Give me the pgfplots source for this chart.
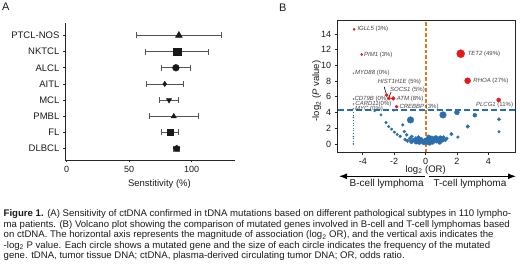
\documentclass[border=0pt]{standalone}
\usepackage{pgfplots}
\pgfplotsset{compat=1.18}
\usepackage{fontspec}
\setmainfont{Liberation Sans}
\usetikzlibrary{arrows.meta}
\definecolor{vblue}{HTML}{2A6EAE}
\definecolor{vred}{HTML}{E3191C}
\definecolor{vorange}{HTML}{E27A17}
\definecolor{errgray}{HTML}{555555}
\definecolor{lblgray}{HTML}{444444}
\definecolor{txt}{HTML}{1A1A1A}

\pgfplotstableread{
x y r
-3.25 4.2 1.0
-2.84 3.7 1.2
-2.52 2.73 1.3
-2.35 2.22 1.3
-2.16 1.89 1.3
-1.99 1.51 1.3
-1.81 1.21 1.3
-1.62 0.98 1.4
-2.03 4.3 1.2
-1.45 2.43 1.4
-1.35 1.59 1.4
-1.2 1.17 1.5
-0.96 3.06 3.3
-0.88 0.96 1.6
-0.62 0.75 1.6
-4.6 3.4 0.6
-4.6 0.93 0.6
-4.6 0.0 0.6
1.11 3.7 3.3
2.0 4.03 2.5
3.14 3.66 2.0
4.68 3.15 1.6
4.68 1.55 1.3
2.69 2.22 1.8
1.65 1.26 1.8
2.06 0.88 1.4
-1.3 0.55 1.6
-1.15 0.4 1.8
-1.0 0.7 1.8
-0.9 0.3 2.0
-0.75 0.5 2.0
-0.6 0.25 2.2
-0.5 0.55 2.0
-0.4 0.2 2.2
-0.3 0.6 2.0
-0.2 0.35 2.4
-0.1 0.15 2.2
0.0 0.5 2.2
0.1 0.25 2.4
0.15 0.7 2.0
0.25 0.1 2.2
0.3 0.45 2.4
0.4 0.75 2.2
0.45 0.2 2.0
0.55 0.55 2.4
0.65 0.8 2.2
0.7 0.35 2.0
0.8 0.6 2.2
0.9 0.2 2.0
0.95 0.75 2.4
1.05 0.45 2.0
1.15 0.85 1.8
1.25 0.5 1.8
1.35 0.7 1.6
-0.45 0.85 1.8
0.2 0.9 2.0
}\bluedata

\pgfplotstableread{
x y r
-4.55 14.6 1.1
-4.07 11.4 1.1
-2.48 6.23 1.6
-2.33 5.81 1.6
-2.06 5.81 1.9
-1.85 4.75 1.5
2.24 11.5 4.0
2.68 8.05 3.0
4.66 5.6 2.0
}\reddata

\pgfplotstableread{
x y r
-4.6 9.0 0.6
-4.6 5.73 0.6
-4.6 5.09 0.6
-4.6 4.49 0.6
}\graydata

\begin{document}
\begin{tikzpicture}
\useasboundingbox (0,0) rectangle (520pt,268pt);

% ---------- Panel A ----------
\node[anchor=north west, inner sep=0, font=\fontsize{11}{12}\selectfont, text=txt] at (2pt,265pt) {A};
\begin{axis}[
  at={(65.4pt,108pt)}, anchor=south west,
  scale only axis, width=170pt, height=136.7pt,
  xmin=-1, xmax=135, ymin=0.3, ymax=8.75,
  axis x line=bottom, axis y line=left,
  axis line style={-, line width=0.8pt, black!85},
  xtick={0,50,100}, ytick={1,2,3,4,5,6,7,8},
  yticklabels={DLBCL,FL,PMBL,MCL,AITL,ALCL,NKTCL,PTCL-NOS},
  tick align=outside, major tick length=2.5pt,
  tick style={black!85, line width=0.8pt},
  /pgf/number format/assume math mode=true,
  xticklabel style={font=\fontsize{9}{10}\selectfont, text=txt},
  yticklabel style={font=\fontsize{9.5}{10}\selectfont, text=txt},
  xlabel={Senstitivity (\%)},
  xlabel style={at={(axis description cs:0.553,-0.173)}, anchor=center, font=\fontsize{9.5}{10}\selectfont, text=txt},
  clip=false,
  error bars/error bar style={errgray, line width=0.8pt},
  error bars/error mark=|,
  error bars/error mark options={errgray, mark size=3pt, line width=0.8pt},
]
\addplot[only marks, mark=triangle*, mark size=4pt, black!90,
  error bars/.cd, x dir=both, x explicit] coordinates {(89.8,8) +- (33.6,0)};
\addplot[only marks, mark=square*, mark size=3.8pt, black!90,
  error bars/.cd, x dir=both, x explicit] coordinates {(88.2,7) +- (25.3,0)};
\addplot[only marks, mark=*, mark size=3.4pt, black!90,
  error bars/.cd, x dir=both, x explicit] coordinates {(87.4,6) +- (11.7,0)};
\addplot[only marks, mark=diamond*, mark size=2.6pt, black!90,
  error bars/.cd, x dir=both, x explicit] coordinates {(78.5,5) +- (14.5,0)};
\addplot[only marks, mark=triangle*, mark options={rotate=180}, mark size=3pt, black!90,
  error bars/.cd, x dir=both, x explicit] coordinates {(81.9,4) +- (7.7,0)};
\addplot[only marks, mark=triangle*, mark size=3pt, black!90,
  error bars/.cd, x dir=both, x explicit] coordinates {(85.7,3) +- (19.6,0)};
\addplot[only marks, mark=square*, mark size=3pt, black!90,
  error bars/.cd, x dir=both, x explicit] coordinates {(82.65,2) +- (7,0)};
\addplot[only marks, mark=pentagon*, mark size=3.5pt, black!90,
  error bars/.cd, x dir=both, x explicit] coordinates {(88,1) +- (2.5,0)};
\end{axis}

% ---------- Panel B ----------
\node[anchor=north west, inner sep=0, font=\fontsize{11}{12}\selectfont, text=txt] at (279pt,264pt) {B};
\begin{axis}[
  at={(337.7pt,115.7pt)}, anchor=south west,
  scale only axis, width=177.3pt, height=131.6pt,
  xmin=-5.6, xmax=5.7, ymin=-1.06, ymax=15.7,
  xtick={-4,-2,0,2,4}, ytick={0,2,4,6,8,10,12,14},
  xtick pos=bottom, ytick pos=left, tick align=outside, major tick length=3pt,
  axis line style={line width=0.8pt, black!85},
  tick style={black!85, line width=0.8pt},
  /pgf/number format/assume math mode=true,
  ticklabel style={font=\fontsize{9}{10}\selectfont, text=txt},
  xticklabel style={yshift=1pt},
  xlabel={log\textsubscript{2} (OR)},
  ylabel={-log\textsubscript{2} (\textit{P} value)},
  xlabel style={at={(axis description cs:0.496,-0.132)}, anchor=center, font=\fontsize{9.5}{10}\selectfont, text=txt},
  ylabel style={at={(axis description cs:-0.118,0.466)}, anchor=center, font=\fontsize{9.5}{10}\selectfont, text=txt},
  clip=false,
]
\addplot[draw=vorange, line width=1.6pt, dash pattern=on 3.5pt off 2pt] coordinates {(0.03,-1.06) (0.03,15.7)};
\addplot[vblue, line width=0.6pt, dotted] coordinates {(-4.6,0) (-4.6,4.3)};
\addplot[scatter, only marks, mark=*,
  scatter/use mapped color={draw=vblue, fill=vblue},
  visualization depends on={\thisrow{r}\as\rr},
  scatter/@pre marker code/.append style={/tikz/mark size=\rr}] table[x=x,y=y] {\bluedata};
\addplot[vblue, line width=1.2pt, dash pattern=on 6pt off 3pt] coordinates {(-5.6,4.32) (5.7,4.32)};
\addplot[scatter, only marks, mark=*,
  scatter/use mapped color={draw=gray, fill=gray},
  visualization depends on={\thisrow{r}\as\rr},
  scatter/@pre marker code/.append style={/tikz/mark size=\rr}] table[x=x,y=y] {\graydata};
\addplot[scatter, only marks, mark=*,
  scatter/use mapped color={draw=vred, fill=vred},
  visualization depends on={\thisrow{r}\as\rr},
  scatter/@pre marker code/.append style={/tikz/mark size=\rr}] table[x=x,y=y] {\reddata};
\draw[black, line width=0.6pt] (axis cs:-2.64,7.3) -- (axis cs:-2.5,6.35);
\draw[black, line width=0.6pt] (axis cs:-2.2,6.6) -- (axis cs:-2.33,5.95);
\begin{scope}[every node/.style={anchor=west, inner sep=0, font=\fontsize{6}{7}\selectfont, text=lblgray}]
\node at (axis cs:-4.35,14.6) {\textit{IGLL5} (3\%)};
\node at (axis cs:-3.93,11.4) {\textit{PIM1} (3\%)};
\node at (axis cs:-4.5,9.0) {\textit{MYD88} (0\%)};
\node at (axis cs:-3.05,7.9) {\textit{HIST1H1E} (5\%)};
\node at (axis cs:-2.27,6.87) {\textit{SOCS1} (5\%)};
\node at (axis cs:-1.84,5.75) {\textit{ATM} (8\%)};
\node at (axis cs:-4.54,5.73) {\textit{CD79B} (0\%)};
\node at (axis cs:-4.48,5.09) {\textit{CARD11}(0\%)};
\node at (axis cs:-4.5,4.49) {\textit{MYC} (0\%)};
\node at (axis cs:-1.67,4.72) {\textit{CREBBP} (3\%)};
\node at (axis cs:2.68,11.5) {\textit{TET2} (49\%)};
\node at (axis cs:3.04,8.05) {\textit{RHOA} (27\%)};
\node at (axis cs:3.21,4.92) {\textit{PLCG1} (11\%)};
\end{scope}
\end{axis}

% arrows below panel B
\draw[line width=1.2pt, -{Latex[length=8pt,width=6pt]}] (425pt,91.7pt) -- (339pt,91.7pt);
\draw[line width=1.2pt, -{Latex[length=8pt,width=6pt]}] (428.5pt,91.7pt) -- (516pt,91.7pt);
\node[font=\fontsize{10}{11}\selectfont, text=txt] at (386.7pt,84.5pt) {B-cell lymphoma};
\node[font=\fontsize{10}{11}\selectfont, text=txt] at (470pt,84.5pt) {T-cell lymphoma};

% caption
\node[anchor=north west, align=left, inner sep=0, font=\fontsize{9.6}{10.5}\selectfont, text=txt] at (3.5pt,58.5pt) {%
\textbf{Figure 1.} (A) Sensitivity of ctDNA confirmed in tDNA mutations based on different pathological subtypes in 110 lympho-\\
ma patients. (B) Volcano plot showing the comparison of mutated genes involved in B-cell and T-cell lymphomas based\\
on ctDNA. The horizontal axis represents the magnitude of association (log\textsubscript{2} OR), and the vertical axis indicates the\\
-log\textsubscript{2} P value. Each circle shows a mutated gene and the size of each circle indicates the frequency of the mutated\\
gene. tDNA, tumor tissue DNA; ctDNA, plasma-derived circulating tumor DNA; OR, odds ratio.};
\end{tikzpicture}
\end{document}
